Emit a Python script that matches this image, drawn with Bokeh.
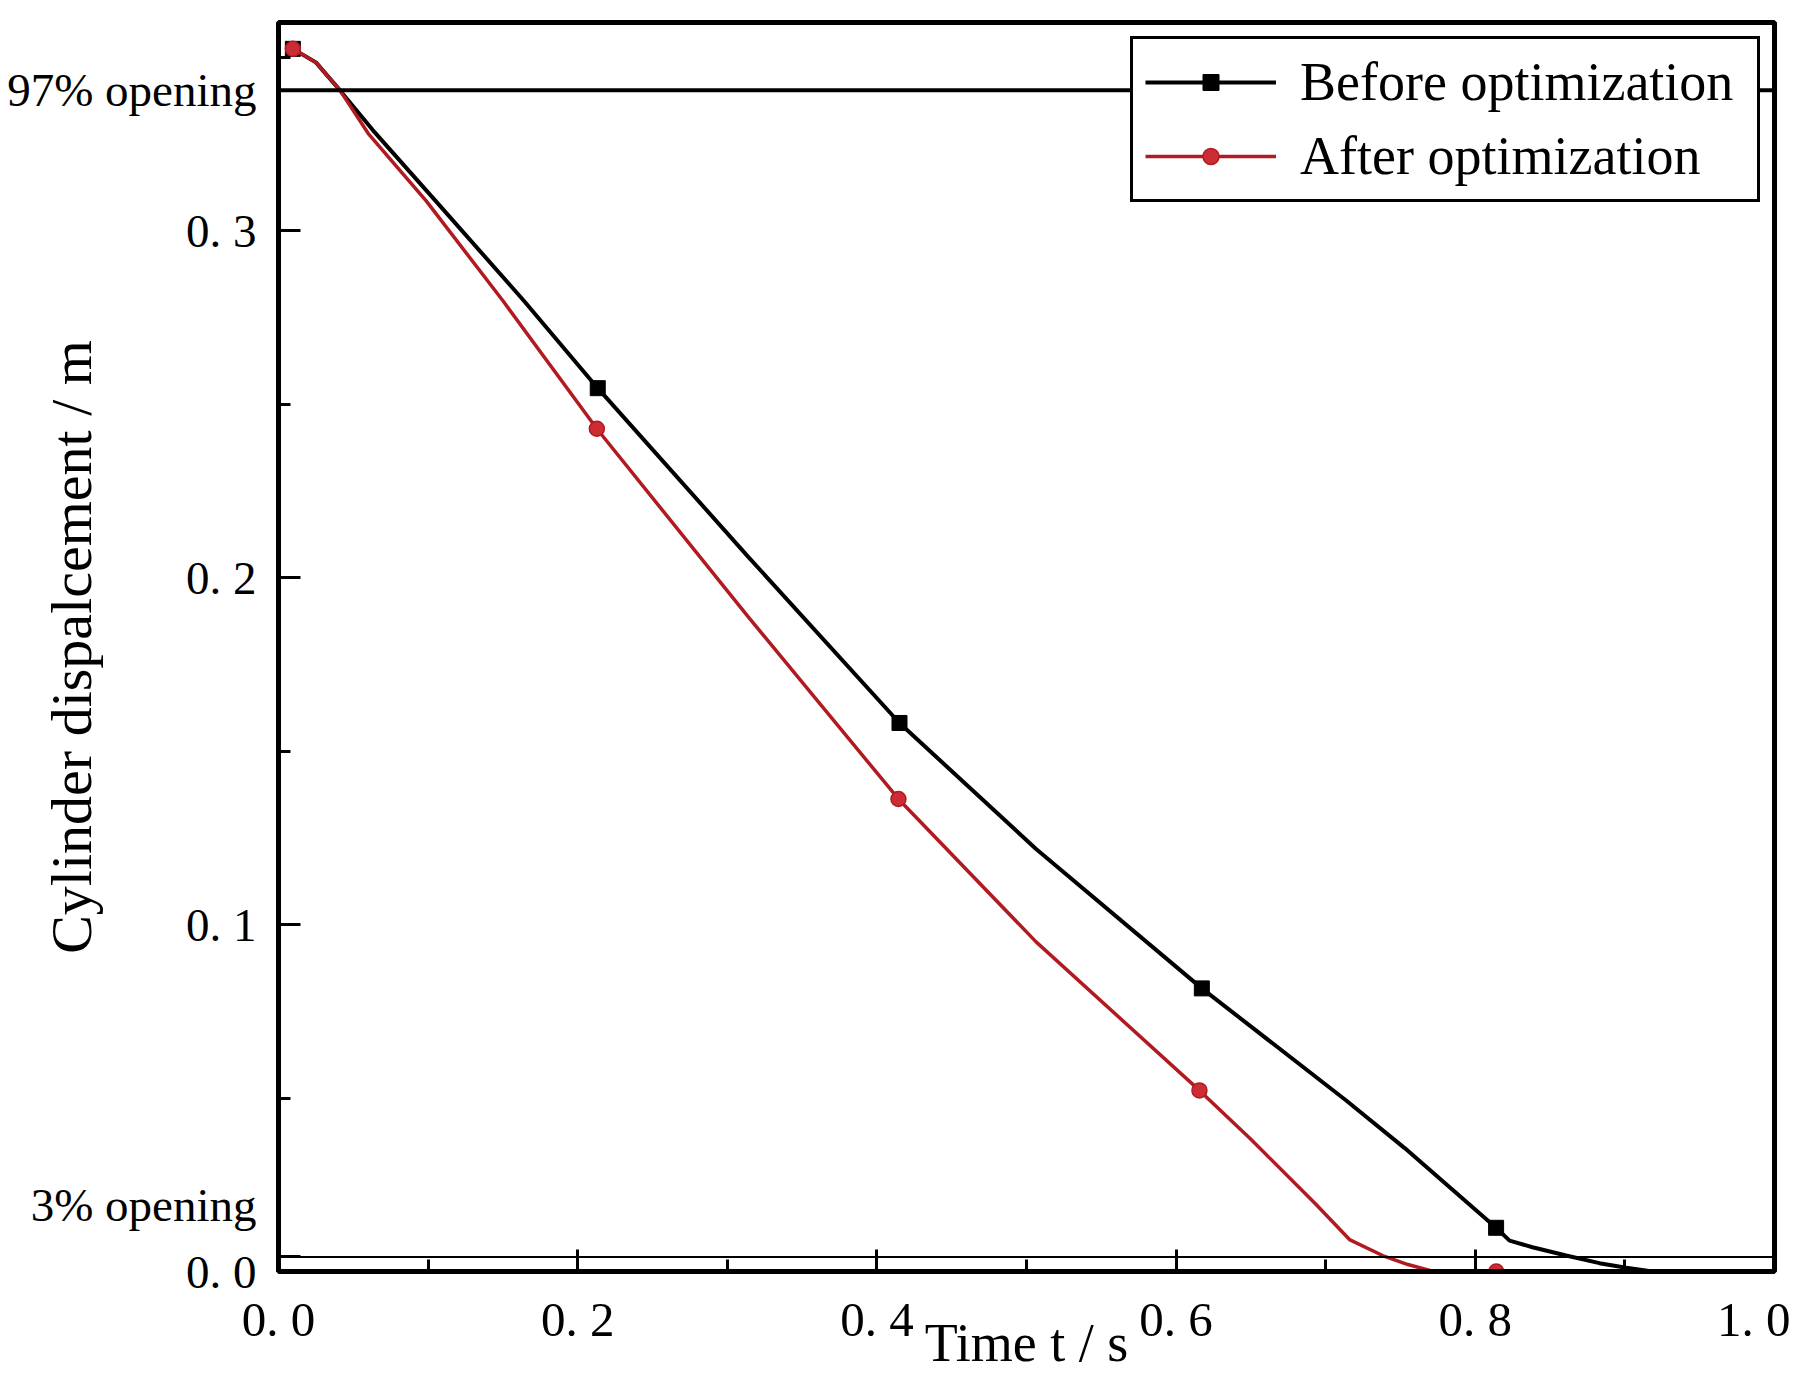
from bokeh.plotting import figure
from bokeh.models import Range1d, FixedTicker, Span, Legend, LegendItem
from bokeh.embed import file_html
from bokeh.resources import INLINE

# ---- data ----
before_t = [0.0096, 0.025, 0.041, 0.063, 0.105, 0.164, 0.2134, 0.314, 0.4151,
            0.5064, 0.6172, 0.7137, 0.753, 0.8139, 0.8229, 0.8382, 0.8607,
            0.883, 0.9009, 0.9185, 1.0]
before_y = [0.3524, 0.3485, 0.3405, 0.329, 0.3086, 0.2798, 0.2546, 0.2060, 0.1581,
            0.1218, 0.0816, 0.0493, 0.0355, 0.0126, 0.0089, 0.0070, 0.0046,
            0.0024, 0.0011, 0.0, 0.0]
before_marker_t = [0.0096, 0.2134, 0.4151, 0.6172, 0.8139]
before_marker_y = [0.3524, 0.2546, 0.1581, 0.0816, 0.0126]

after_t = [0.0096, 0.025, 0.041, 0.060, 0.0987, 0.150, 0.2128, 0.314, 0.4144,
           0.5064, 0.6156, 0.6491, 0.6936, 0.7159, 0.738, 0.755, 0.772, 1.0]
after_y = [0.3524, 0.3485, 0.3405, 0.328, 0.3086, 0.2798, 0.2429, 0.1887, 0.1362,
           0.095, 0.0522, 0.0385, 0.0193, 0.0092, 0.0046, 0.002, 0.0, 0.0]
after_marker_t = [0.0096, 0.2128, 0.4144, 0.6156, 0.814]
after_marker_y = [0.3524, 0.2429, 0.1362, 0.0522, 0.0]

opening_97 = 0.3405
opening_3 = 0.0042
opening_labels = ["97% opening", "3% opening\n"]

x_ticks = [0.0, 0.2, 0.4, 0.6, 0.8, 1.0]
x_tick_labels = ["0. 0", "0. 2", "0. 4", "0. 6", "0. 8", "1. 0"]
x_minor = [0.1, 0.3, 0.5, 0.7, 0.9]
y_ticks = [0.0, 0.1, 0.2, 0.3]
y_tick_labels = ["0. 0", "0. 1", "0. 2", "0. 3"]
y_minor = [0.05, 0.15, 0.25, 0.35]

series_names = ["Before optimization", "After optimization"]
FONT = "Liberation Serif"
RED_LINE = "#b01a20"
RED_FILL = "#cc2c33"

p = figure(width=1790, height=1377, output_backend="svg", toolbar_location=None,
           x_range=Range1d(0, 1.0), y_range=Range1d(0, 0.36),
           min_border_left=278, min_border_right=16, min_border_top=22,
           min_border_bottom=106)
p.grid.visible = False
p.outline_line_color = "black"
p.outline_line_width = 5
p.background_fill_color = "white"
p.border_fill_color = "white"

y_all_ticks = y_ticks + [opening_97, opening_3]
y_all_labels = y_tick_labels + opening_labels

for ax, ticks, minor, labels in ((p.xaxis[0], x_ticks, x_minor, x_tick_labels),
                                 (p.yaxis[0], y_all_ticks, y_minor, y_all_labels)):
    ax.ticker = FixedTicker(ticks=ticks, minor_ticks=minor)
    ax.major_label_overrides = dict(zip(ticks, labels))
    ax.axis_line_width = 5
    ax.axis_line_color = "black"
    ax.major_tick_in = 22
    ax.major_tick_out = 0
    ax.minor_tick_in = 12
    ax.minor_tick_out = 0
    ax.major_tick_line_width = 3
    ax.minor_tick_line_width = 3
    ax.major_tick_line_color = "black"
    ax.minor_tick_line_color = "black"
    ax.major_label_text_font = FONT
    ax.major_label_text_color = "black"
    ax.axis_label_text_font = FONT
    ax.axis_label_text_font_style = "normal"
    ax.axis_label_text_color = "black"

p.xaxis[0].major_label_text_font_size = "49px"
p.xaxis[0].axis_label = "Time t / s"
p.xaxis[0].axis_label_text_font_size = "54px"
p.xaxis[0].major_label_standoff = 20
p.xaxis[0].axis_label_standoff = -37
p.yaxis[0].major_label_text_font_size = "47px"
p.yaxis[0].axis_label = "Cylinder dispalcement / m"
p.yaxis[0].axis_label_text_font_size = "58px"
p.yaxis[0].major_label_standoff = 22
p.yaxis[0].major_label_text_line_height = 2.0
p.yaxis[0].axis_label_standoff = -100

# reference lines
p.add_layout(Span(location=opening_97, dimension="width", line_color="black", line_width=4))
p.add_layout(Span(location=opening_3, dimension="width", line_color="black", line_width=2))

# series
bl = p.line(before_t, before_y, line_color="black", line_width=4)
bs = p.scatter(before_marker_t, before_marker_y, marker="square", size=15,
               fill_color="black", line_color="black")
rl = p.line(after_t, after_y, line_color=RED_LINE, line_width=3.5)
rs = p.scatter(after_marker_t, after_marker_y, marker="circle", size=15,
               fill_color=RED_FILL, line_color=RED_LINE, line_width=1.5)

legend = Legend(items=[LegendItem(label=series_names[0], renderers=[bl, bs]),
                       LegendItem(label=series_names[1], renderers=[rl, rs])],
                location="top_right", border_line_color="black", border_line_width=3,
                border_line_alpha=1.0,
                label_text_font=FONT, label_text_font_size="54px",
                label_text_color="black",
                glyph_width=131, glyph_height=40, label_height=40,
                label_width=445,
                label_standoff=24, spacing=12, padding=12, margin=14,
                background_fill_color="white", background_fill_alpha=1.0)
p.add_layout(legend)

open("out.html", "w").write(file_html(p, INLINE))
